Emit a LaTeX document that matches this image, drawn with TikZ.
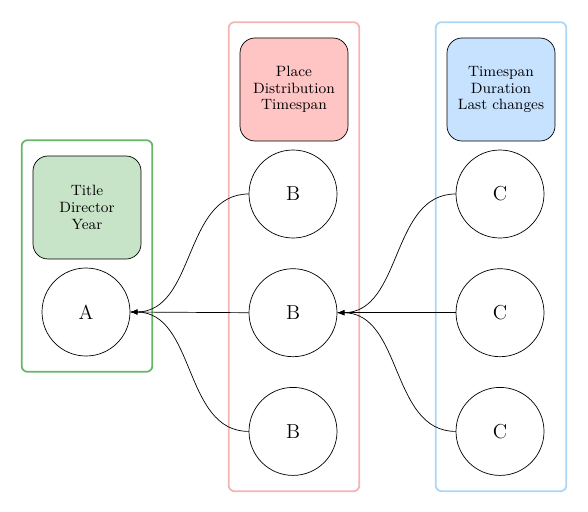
\documentclass[tikz,border=0pt]{standalone}
\usepackage{tikz}
\usetikzlibrary{positioning, fit, arrows}
\definecolor{boxgreen}{RGB}{200,228,200}
\definecolor{boxred}{RGB}{255,196,196}
\definecolor{boxblue}{RGB}{198,226,255}
\definecolor{framegreen}{RGB}{104,180,104}
\definecolor{framered}{RGB}{244,180,180}
\definecolor{frameblue}{RGB}{172,214,244}
\tikzstyle{attrs} = [rectangle, rounded corners=0.3cm, minimum width=2.16cm, minimum height=2.06cm, text centered, align=center, font=\fontsize{8.5}{9.5}\selectfont, draw=black]
\tikzstyle{entity} = [circle, minimum size=1.76cm, font=\fontsize{11.5}{13}\selectfont, draw=black]
\tikzstyle{group} = [rectangle, rounded corners=0.12cm, line width=1pt, inner xsep=0.22cm, inner ysep=0.31cm]
\tikzstyle{arrow} = [->,>=latex]

\begin{document}
\begin{tikzpicture}[node distance=0.6cm]

        \useasboundingbox (0,0) rectangle (11.76,-10.22);

        \node (A) [entity] at (1.72,-6.24) {A};
        \node (attrsA) [attrs, fill=boxgreen] at (1.74,-4.15) {Title\\Director\\Year};

        \node (attrsB) [attrs, fill=boxred] at (5.88,-1.79) {Place\\Distribution\\Timespan};
        \node (B1) [entity] at (5.86,-3.88) {B};
        \node (B2) [entity, below=of B1] {B};
        \node (B3) [entity, below=of B2] {B};

        \node (attrsC) [attrs, fill=boxblue] at (10.02,-1.79) {Timespan\\Duration\\Last changes};
        \node (C1) [entity] at (10.0,-3.88) {C};
        \node (C2) [entity, below=of C1] {C};
        \node (C3) [entity, below=of C2] {C};

        \node (groupA) [group, draw=framegreen, fit=(attrsA) (A)] {};
        \node (groupB) [group, draw=framered, fit=(attrsB) (B3)] {};
        \node (groupC) [group, draw=frameblue, fit=(attrsC) (C3)] {};

        \draw [arrow] (B1.west) to[out=180,in=0] (A.east);
        \draw [arrow] (B2.west) -- (A.east);
        \draw [arrow] (B3.west) to[out=180,in=0] (A.east);
        \draw [arrow] (C1.west) to[out=180,in=0] (B2.east);
        \draw [arrow] (C2.west) -- (B2.east);
        \draw [arrow] (C3.west) to[out=180,in=0] (B2.east);

      \end{tikzpicture}
\end{document}
